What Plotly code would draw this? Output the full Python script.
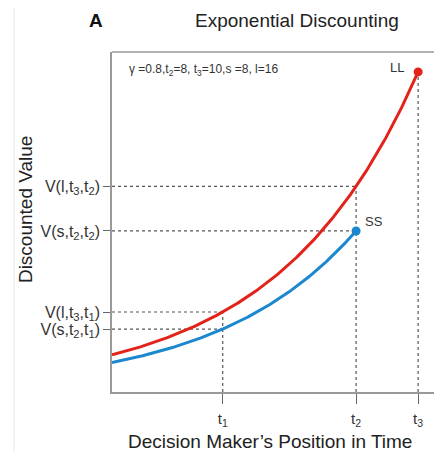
import plotly.graph_objects as go

# Model parameters (from the chart annotation)
gamma = 0.8
t1 = 3.7
t2 = 8
t3 = 10
s = 8
l = 16

x_start = 0.13
x_end = 10.77
y_min, y_max = -0.1, 17.0

y_tick_text = ["V(s,t<sub>2</sub>,t<sub>1</sub>)", "V(l,t<sub>3</sub>,t<sub>1</sub>)",
               "V(s,t<sub>2</sub>,t<sub>2</sub>)", "V(l,t<sub>3</sub>,t<sub>2</sub>)"]
x_tick_text = ["t<sub>1</sub>", "t<sub>2</sub>", "t<sub>3</sub>"]

n = 200
red_x = [x_start + (t3 - x_start) * i / (n - 1) for i in range(n)]
red_y = [l * gamma ** (t3 - x) for x in red_x]
blue_x = [x_start + (t2 - x_start) * i / (n - 1) for i in range(n)]
blue_y = [s * gamma ** (t2 - x) for x in blue_x]

v_l_t2 = l * gamma ** (t3 - t2)
v_s_t2 = s
v_l_t1 = l * gamma ** (t3 - t1)
v_s_t1 = s * gamma ** (t2 - t1)

RED = "#e2231a"
BLUE = "#1b87cf"
DOT = "#555555"
FONT = "Liberation Sans, Arial, sans-serif"

fig = go.Figure()

# dotted guides
hlines = [(t2, v_l_t2), (t2, v_s_t2), (t1, v_l_t1), (t1, v_s_t1)]
for xv, yv in hlines:
    fig.add_trace(go.Scatter(x=[x_start, xv], y=[yv, yv], mode="lines",
                             line=dict(color=DOT, width=1.2, dash="dot"),
                             showlegend=False, hoverinfo="skip"))
vlines = [(t1, v_l_t1), (t2, v_l_t2), (t3, l)]
for xv, yv in vlines:
    fig.add_trace(go.Scatter(x=[xv, xv], y=[y_min, yv], mode="lines",
                             line=dict(color=DOT, width=1.2, dash="dot"),
                             showlegend=False, hoverinfo="skip"))

fig.add_trace(go.Scatter(x=red_x, y=red_y, mode="lines",
                         line=dict(color=RED, width=3), showlegend=False))
fig.add_trace(go.Scatter(x=blue_x, y=blue_y, mode="lines",
                         line=dict(color=BLUE, width=3), showlegend=False))
fig.add_trace(go.Scatter(x=[t3], y=[l], mode="markers", marker=dict(color=RED, size=9),
                         showlegend=False, cliponaxis=False))
fig.add_trace(go.Scatter(x=[t2], y=[s], mode="markers", marker=dict(color=BLUE, size=9),
                         showlegend=False, cliponaxis=False))

fig.update_layout(
    width=434, height=444,
    margin=dict(l=104, r=0, t=44, b=60),
    plot_bgcolor="white", paper_bgcolor="white",
    font=dict(family=FONT, color="#333333"),
    xaxis=dict(range=[x_start, x_end], showgrid=False, zeroline=False,
               showline=True, linecolor="#999999", linewidth=1.5,
               tickvals=[t1, t2, t3], ticktext=x_tick_text,
               ticks="outside", ticklen=10, tickcolor="#666666", tickwidth=1,
               ticklabelstandoff=2,
               tickfont=dict(size=15, color="#333333")),
    yaxis=dict(range=[y_min, y_max], showgrid=False, zeroline=False,
               showline=True, linecolor="#999999", linewidth=1.5,
               tickvals=[v_s_t1, v_l_t1, v_s_t2, v_l_t2], ticktext=y_tick_text,
               ticks="outside", ticklen=7, tickcolor="#666666", tickwidth=1,
               tickfont=dict(size=16, color="#333333")),
    shapes=[
        dict(type="line", xref="paper", yref="paper", x0=0, x1=1, y0=1, y1=1,
             line=dict(color="#999999", width=1.5)),
        dict(type="line", xref="paper", yref="paper", x0=-0.297, x1=-0.297, y0=-0.18, y1=1.16,
             line=dict(color="#e8e8e8", width=1)),
    ],
    annotations=[
        dict(text="<b>A</b>", xref="paper", yref="paper", x=-0.05, y=1.094,
             xanchor="center", yanchor="middle",
             showarrow=False, font=dict(size=19, color="#111111")),
        dict(text="Exponential Discounting", xref="paper", yref="paper", x=0.56, y=1.094,
             xanchor="center", yanchor="middle",
             showarrow=False, font=dict(size=19, color="#222222")),
        dict(text="γ =0.8,t<sub>2</sub>=8, t<sub>3</sub>=10,s =8, l=16", xref="paper", yref="paper",
             x=0.045, y=0.947, xanchor="left", yanchor="middle", showarrow=False,
             font=dict(size=12, color="#333333")),
        dict(text="LL", xref="x", yref="y", x=t3, y=l, xanchor="right", yanchor="middle",
             xshift=-12, yshift=4, showarrow=False, font=dict(size=13, color="#333333")),
        dict(text="SS", xref="x", yref="y", x=t2, y=s, xanchor="left", yanchor="middle",
             xshift=7, yshift=9, showarrow=False, font=dict(size=13, color="#333333")),
        dict(text="Discounted Value", xref="paper", yref="paper", x=0, y=0.538,
             xanchor="center", yanchor="middle",
             xshift=-87, textangle=-90, showarrow=False,
             font=dict(size=19, color="#222222")),
        dict(text="Decision Maker’s Position in Time", xref="paper", yref="paper",
             x=0.479, y=0, xanchor="center", yanchor="middle", yshift=-49, showarrow=False,
             font=dict(size=19, color="#222222")),
    ],
)

fig.write_html("out.html")
